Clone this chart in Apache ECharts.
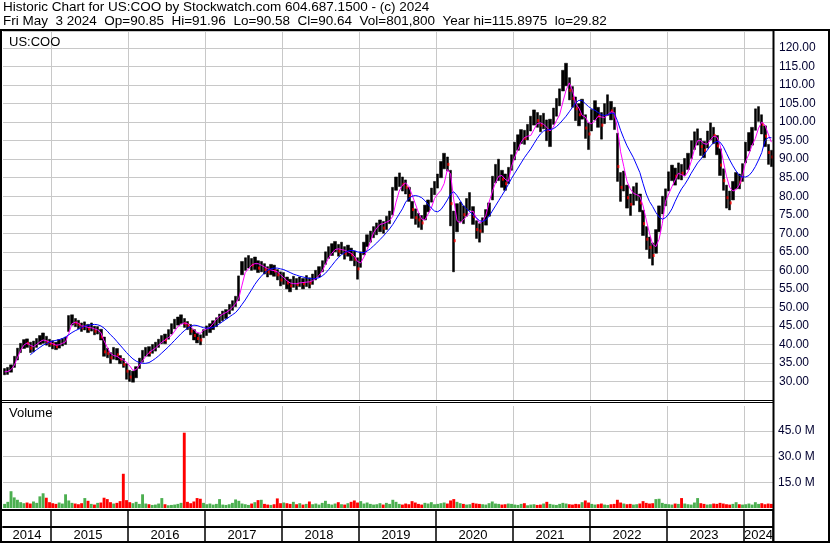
<!DOCTYPE html>
<html><head><meta charset="utf-8">
<script src="https://cdn.jsdelivr.net/npm/echarts@6/dist/echarts.min.js"></script>
<style>html,body{margin:0;padding:0;background:#fff}#c{width:830px;height:543px}</style>
</head><body><div id="c"></div>
<script>
// ---- DATA (semi-monthly periods, May 2014 .. May 2024) ----
const closes = [
  32.5,32.8,33.6,36.0,38.2,39.6,40.6,40.3,39.0,39.6,40.8,41.2,42.0,40.6,40.2,
  40.0,39.4,40.2,40.6,41.0,46.2,46.6,45.8,45.4,44.6,45.2,44.2,44.8,43.6,44.0,42.0,38.0,37.6,36.4,38.4,37.2,36.0,34.6,32.8,
  31.2,31.8,33.4,35.4,37.2,38.0,37.8,38.8,39.4,40.6,41.6,41.2,42.8,44.6,45.8,46.4,46.8,45.6,45.2,43.6,42.4,41.6,41.2,43.2,
  43.8,44.6,45.2,46.2,47.0,47.6,48.4,49.8,50.6,51.6,56.0,60.6,61.6,62.2,61.4,61.8,60.6,61.2,60.2,59.6,60.4,59.8,58.8,57.4,
  57.8,56.6,55.8,56.8,56.2,57.0,56.4,57.2,56.6,57.8,58.6,59.8,61.4,63.8,64.8,65.6,66.4,65.2,66.0,64.6,65.4,64.2,63.0,60.4,
  63.6,66.2,68.0,69.2,70.4,71.2,72.0,71.4,73.0,74.4,80.6,83.4,84.6,83.2,82.4,80.2,76.4,74.2,73.6,72.8,75.8,77.4,80.8,82.2,
  84.0,87.6,89.4,88.6,78.0,68.0,74.6,76.2,75.0,77.6,78.8,74.6,71.0,70.6,72.4,74.8,76.6,83.0,85.8,86.8,84.6,83.4,85.6,89.2,
  92.4,94.8,96.2,95.6,97.2,99.6,101.2,100.4,99.2,100.6,97.8,98.4,101.6,104.2,106.8,111.6,112.8,108.6,106.4,103.6,102.0,103.8,98.4,96.8,
  100.8,103.4,101.6,99.2,102.4,104.6,103.0,101.4,88.0,82.4,84.6,79.6,77.8,80.4,81.6,78.2,72.6,68.4,66.2,64.0,68.6,74.6,77.8,79.8,
  84.2,86.6,85.4,87.0,86.2,88.0,89.6,92.8,95.2,96.0,93.4,92.4,95.4,97.6,96.4,93.6,88.4,84.2,79.6,78.2,81.6,84.6,83.8,86.4,
  92.0,94.8,96.6,101.4,102.6,99.4,96.2,91.8,90.6
];
const highs = [
  33.5,33.8,34.5,36.8,39.0,40.3,41.3,41.5,40.6,40.9,41.6,42.4,43.1,42.2,41.4,
  41.0,40.6,41.3,41.6,42.0,47.8,48.0,47.0,46.5,45.8,46.1,45.4,45.8,44.9,44.8,44.1,42.0,39.0,37.8,39.2,38.9,37.0,36.2,34.8,
  33.0,32.8,34.0,36.3,38.4,39.2,39.4,40.0,40.6,41.4,42.4,42.8,44.0,45.6,46.8,47.4,48.0,47.0,46.2,45.4,44.0,43.0,42.6,44.0,
  45.0,45.6,46.4,47.2,48.2,49.0,49.4,50.8,51.8,53.0,58.5,62.4,63.4,64.0,63.2,63.6,62.6,62.4,61.8,61.0,61.6,61.4,60.2,59.6,
  59.4,58.2,57.6,58.4,57.8,58.2,57.8,58.6,58.0,59.0,60.0,61.0,62.6,65.0,66.4,67.2,67.8,67.0,67.6,66.4,66.8,66.0,65.2,63.4,
  65.0,67.6,69.6,70.6,71.8,72.8,73.6,73.2,74.6,76.0,82.4,85.2,86.3,85.2,84.4,82.4,78.6,76.6,75.4,74.8,77.6,79.0,82.2,84.0,
  86.0,89.4,91.6,90.6,87.0,76.0,78.0,78.4,77.4,79.4,81.0,77.2,73.4,72.6,74.2,76.4,78.2,85.4,88.6,90.0,87.0,86.0,87.8,91.2,
  94.6,96.6,98.0,97.8,99.4,101.6,103.3,102.6,101.8,102.4,100.6,100.8,103.8,106.4,109.0,114.0,115.9,112.0,109.6,106.8,105.0,106.2,102.0,99.8,
  103.4,105.8,104.0,102.6,105.0,107.4,105.6,104.0,97.0,86.4,86.8,83.0,80.6,82.6,83.6,80.6,76.2,71.8,69.0,67.4,71.0,77.4,80.0,82.0,
  86.6,88.4,87.6,89.0,88.6,90.2,91.6,95.0,97.4,98.2,95.6,94.8,97.6,99.8,98.6,96.4,92.8,87.4,83.0,81.4,84.0,86.4,86.0,88.8,
  94.6,97.2,98.6,103.6,104.2,102.0,99.0,94.0,92.4
];
const lows = [
  31.8,31.9,32.5,33.8,35.8,37.8,38.9,39.2,37.8,38.0,39.2,40.0,40.3,39.8,39.4,
  38.8,38.6,39.0,39.6,40.0,43.5,45.2,44.8,44.2,43.5,43.9,43.2,43.6,42.6,42.8,41.2,36.8,36.4,34.9,36.0,35.8,34.8,33.8,30.6,
  30.0,29.8,31.0,33.5,35.2,36.8,36.8,37.6,38.2,39.2,40.2,40.2,41.4,42.8,44.2,45.2,45.6,44.6,44.0,42.6,41.2,40.4,39.9,41.8,
  42.4,43.2,44.0,44.8,45.8,46.4,47.0,48.2,49.2,50.2,51.8,58.8,60.0,60.6,60.0,60.2,59.4,59.6,59.0,58.2,58.8,58.4,57.4,55.8,
  56.2,55.0,54.2,55.4,54.8,55.6,55.0,55.6,55.2,56.2,57.4,58.2,59.6,61.6,63.2,64.0,65.0,63.8,64.4,63.0,63.8,62.6,61.2,57.6,
  60.8,64.2,66.4,67.6,68.8,69.6,70.4,70.0,71.0,72.6,75.0,81.6,82.6,81.4,80.6,78.6,74.0,72.4,71.6,71.0,73.6,75.8,78.4,80.4,
  82.2,85.0,87.4,86.8,72.0,59.6,70.4,73.2,72.6,74.6,76.2,72.4,68.6,67.6,70.2,72.2,74.6,79.0,83.6,84.2,82.4,81.6,83.4,87.0,
  89.8,92.4,94.2,94.0,95.2,97.6,99.2,98.6,97.4,98.2,95.0,93.4,99.4,101.6,104.4,108.4,109.8,106.0,104.0,100.4,99.0,100.8,95.6,92.6,
  97.6,100.6,98.6,95.4,99.6,101.8,100.6,98.0,84.0,78.6,81.4,76.8,74.8,77.6,78.8,75.8,69.4,65.6,63.2,61.4,64.6,70.4,75.2,77.4,
  81.4,84.2,83.0,84.6,84.4,85.6,87.2,90.2,92.6,93.8,91.0,90.4,93.0,95.2,94.2,91.2,85.6,81.6,76.8,76.3,79.0,82.0,82.0,84.0,
  89.0,92.2,93.8,97.8,100.2,96.8,93.4,88.6,88.0
];
// short moving average (magenta)
const maShort = [
  32.6,32.7,33.2,34.3,36.4,38.4,39.8,40.4,39.8,39.4,40.0,40.7,41.2,41.0,40.6,
  40.2,39.8,39.9,40.3,40.7,43.0,45.6,46.0,45.7,45.0,44.9,44.6,44.5,44.2,43.9,43.2,41.0,39.2,37.6,37.0,36.8,36.2,35.8,35.2,
  34.2,33.0,33.2,34.4,35.6,36.8,37.8,38.4,39.0,39.8,40.6,41.2,41.8,42.4,43.6,44.8,45.4,45.8,45.6,44.8,44.0,43.2,43.0,43.8,
  44.2,44.6,45.6,46.8,47.6,48.2,48.6,49.2,50.0,51.0,52.5,56.0,59.4,60.4,61.4,61.8,61.8,61.4,60.9,60.4,60.1,59.9,59.6,58.8,
  58.0,57.2,56.6,56.4,56.4,56.6,56.7,56.8,56.9,57.2,57.8,58.6,59.8,61.6,63.4,64.6,65.6,65.8,65.6,65.4,65.0,64.6,63.8,62.4,
  62.0,63.6,65.6,67.6,70.2,71.4,72.4,72.6,73.0,73.4,74.6,78.4,81.4,83.0,83.6,82.6,80.4,78.0,75.6,73.8,73.6,75.2,76.8,79.4,
  80.6,81.6,83.4,87.2,86.0,79.0,73.4,72.8,73.6,74.6,75.6,76.0,74.2,72.8,73.2,74.8,78.4,81.2,83.6,85.4,85.6,84.6,84.0,88.0,
  90.6,92.6,94.6,95.8,96.2,96.4,98.0,99.6,99.8,99.4,98.6,97.6,98.6,100.4,102.0,105.4,108.6,110.6,108.6,105.0,103.8,101.8,101.4,99.8,
  99.6,100.4,101.6,101.4,101.2,102.0,102.8,102.6,98.4,92.0,88.0,84.0,82.0,80.8,80.4,80.0,77.4,73.6,70.0,67.0,66.4,68.4,72.6,78.6,
  80.6,82.6,84.4,86.2,85.8,85.4,86.6,89.4,92.6,95.0,95.0,94.2,94.0,95.2,96.2,96.0,93.8,89.6,85.4,82.4,81.4,81.8,83.0,85.4,
  89.4,91.4,93.8,95.6,98.4,100.0,99.2,96.8,94.6
];
// long moving average (blue)
const maLong = [
  null,null,null,null,null,null,null,null,37.2,37.9,38.6,39.2,39.8,40.2,40.6,
  40.9,41.1,41.3,41.6,42.0,42.6,43.2,43.7,44.1,44.5,44.9,45.2,45.3,45.4,45.3,45.0,44.4,43.6,42.6,41.8,40.8,39.8,38.8,37.8,
  36.9,36.1,35.5,35.1,34.9,34.9,35.1,35.6,36.2,36.9,37.7,38.5,39.3,40.2,41.1,42.0,42.9,43.7,44.4,44.9,45.2,45.1,44.8,44.5,
  44.4,44.4,44.6,45.0,45.6,46.2,46.8,47.4,48.0,48.6,49.6,50.8,52.0,53.4,54.8,56.2,57.4,58.4,59.3,60.0,60.4,60.6,60.6,60.4,
  60.2,59.8,59.4,59.0,58.7,58.4,58.2,58.0,57.8,57.7,57.8,58.0,58.5,59.2,60.2,61.3,62.4,63.4,64.2,64.8,65.2,65.4,65.3,65.0,
  64.8,64.8,65.2,65.8,66.6,67.4,68.3,69.2,70.2,71.2,72.4,73.8,75.2,76.6,78.4,79.4,80.0,80.2,80.0,79.6,78.8,77.8,76.8,76.0,
  75.8,76.4,77.6,79.0,80.6,81.2,80.2,78.8,77.4,76.6,75.8,75.0,74.2,73.4,73.2,73.6,74.6,76.0,77.4,78.8,80.2,81.6,83.2,84.8,
  86.2,87.6,89.0,90.4,91.6,92.8,94.2,95.6,96.8,97.6,97.9,98.0,98.2,98.8,99.6,100.6,101.6,102.8,104.0,105.2,105.9,105.8,105.0,104.2,
  103.6,103.2,102.6,102.0,101.8,102.0,102.4,102.4,100.4,97.8,95.6,93.6,92.0,90.4,88.4,86.4,83.4,80.6,78.6,77.2,75.6,74.4,73.8,74.2,
  75.2,76.6,78.6,80.4,82.0,83.2,84.6,86.2,87.6,89.0,90.0,91.2,92.4,93.6,94.4,94.8,94.6,93.4,91.6,89.8,88.2,86.8,85.6,85.2,
  85.2,85.6,86.6,88.0,89.8,91.8,95.0,95.8,95.8
];
// volume, millions of shares
const volumeM = [
  2.4,3.6,9.8,6.2,4.8,3.4,2.8,3.2,2.6,3.8,3.0,6.8,8.6,6.0,3.4,
  2.8,2.4,3.2,2.6,8.0,4.4,3.0,2.6,2.2,2.8,5.8,4.2,2.4,2.0,3.0,3.2,6.0,5.2,3.4,2.6,3.0,4.0,20.0,4.6,
  3.4,2.8,3.6,2.4,8.0,2.6,2.2,1.8,2.0,2.6,5.8,2.2,1.6,1.8,2.0,2.4,3.0,44.0,3.6,2.8,3.8,5.8,5.4,3.0,
  2.2,2.6,2.0,2.4,5.2,2.0,1.8,2.2,3.0,5.0,4.2,2.6,2.2,1.8,2.6,3.4,4.6,4.8,2.4,2.0,1.8,2.2,5.6,2.8,
  3.2,2.8,2.4,3.6,2.2,2.8,2.0,2.4,3.8,2.2,2.6,2.0,3.0,4.2,2.4,2.0,2.6,3.4,2.2,2.0,2.8,3.6,4.4,3.2,
  4.0,2.6,3.2,2.4,2.0,2.2,2.8,2.0,3.0,2.4,4.8,3.6,2.4,2.0,2.6,2.2,4.0,3.2,2.4,2.0,3.0,2.6,3.4,2.2,
  2.4,2.8,3.2,2.6,4.4,5.2,3.6,2.8,2.4,2.0,2.2,3.0,2.6,2.4,2.2,2.0,2.8,3.8,2.6,2.4,2.0,2.2,2.6,2.4,
  2.0,1.8,2.4,2.8,1.6,2.0,2.2,1.8,2.0,2.6,3.6,2.4,2.0,1.8,2.4,3.0,2.6,2.2,2.0,2.4,2.2,3.4,4.4,3.2,
  2.4,2.0,2.2,2.6,2.0,1.8,2.2,2.4,4.8,3.2,2.6,2.2,2.4,2.0,2.2,2.6,4.0,3.0,2.6,2.8,5.2,5.4,3.0,2.4,
  2.2,2.0,2.6,2.4,5.8,2.6,2.2,2.0,3.2,5.8,2.8,2.4,2.0,2.2,2.6,2.4,3.0,2.6,2.2,2.0,2.4,3.4,2.2,2.0,
  2.2,2.6,2.0,3.4,2.4,2.8,2.2,2.6,2.4
];
const headerLine1 = 'Historic Chart for US:COO by Stockwatch.com 604.687.1500 - (c) 2024';
const headerLine2 = 'Fri May  3 2024  Op=90.85  Hi=91.96  Lo=90.58  Cl=90.64  Vol=801,800  Year hi=115.8975  lo=29.82';
const symbolLabel = 'US:COO';
const volumeLabel = 'Volume';

// period labels: second half of May 2014 through first half of May 2024
const categories = [];
(function(){ let y=2014, m=5, h=1;
  while (categories.length < closes.length) {
    categories.push(y + '-' + String(m).padStart(2,'0') + (h ? '-16' : '-01'));
    if (h) { h=0; m++; if (m>12) { m=1; y++; } } else { h=1; }
  }})();

const yearOf = c => c.slice(0,4);
const yearStarts = new Set();
for (let i=1;i<categories.length;i++) if (yearOf(categories[i])!==yearOf(categories[i-1])) yearStarts.add(i);
const labelIdx = new Set();
(function(){ let s=0; for (let i=1;i<=categories.length;i++){ if (i===categories.length || yearStarts.has(i)) { labelIdx.add(Math.floor((s+i-1)/2)); s=i; } } })();
const isYearStart = (i) => yearStarts.has(i);

const candleData = closes.map((c,i) => {
  const up = i===0 || c >= closes[i-1];
  return up ? [lows[i], highs[i], lows[i], highs[i]] : [highs[i], lows[i], lows[i], highs[i]];
});
const downCloses = closes.map((c,i) => (i>0 && c < closes[i-1]) ? c : null);
const volData = volumeM.map((v,i) => ({
  value: v*1e6,
  itemStyle: { color: (i>0 && closes[i] < closes[i-1]) ? '#ff0000' : '#4caf50' }
}));

const FONT = "'Liberation Sans', Arial, Helvetica, sans-serif";
const GRIDC = '#c8c8c8';
const LABC = '#000030';

const chart = echarts.init(document.getElementById('c'), null, {renderer:'canvas'});
const catAxisBase = (gi) => ({
  type:'category', gridIndex:gi, data:categories, boundaryGap:true,
  axisLine:{show:false}, axisTick:{show:false}, axisLabel:{show:false},
  splitLine:{show:true, interval:isYearStart, lineStyle:{color:GRIDC, width:1}}
});
const rect = (x,y,w,h) => ({type:'rect', shape:{x:x,y:y,width:w,height:h}, style:{fill:'#000'}, silent:true, z:100});
const txt = (x,y,t,size) => ({type:'text', x:x, y:y, silent:true, z:100,
  style:{text:t, font: size+'px '+FONT, fill:'#000', align:'left', verticalAlign:'middle', textAlign:'left', textVerticalAlign:'middle'}});

chart.setOption({
  animation:false,
  backgroundColor:'#ffffff',
  grid:[
    {left:3, width:770, top:31, height:369, outerBoundsMode:'none', containLabel:false},
    {left:3, width:770, top:406, height:102, outerBoundsMode:'none', containLabel:false},
    {left:3, width:770, top:510, height:17, outerBoundsMode:'none', containLabel:false}
  ],
  xAxis:[
    catAxisBase(0),
    catAxisBase(1),
    {type:'category', gridIndex:2, data:categories, boundaryGap:true, position:'bottom',
     axisLine:{show:true, lineStyle:{color:'#000', width:2}},
     axisTick:{show:true, interval:isYearStart, length:15, inside:false, lineStyle:{color:'#000', width:1.5}},
     splitLine:{show:true, interval:isYearStart, lineStyle:{color:'#000', width:1.5}},
     axisLabel:{show:true, interval:(i)=>labelIdx.has(i), formatter:(v)=>v.slice(0,4), color:'#000', fontSize:13, fontFamily:FONT, margin:2}}
  ],
  yAxis:[
    {type:'value', gridIndex:0, position:'right', min:25, max:124.6, interval:5,
     axisLine:{show:false}, axisTick:{show:false},
     axisLabel:{margin:6, color:LABC, fontSize:12, fontFamily:FONT, formatter:(v)=>v.toFixed(2), showMinLabel:false, showMaxLabel:false},
     splitLine:{show:true, lineStyle:{color:GRIDC, width:1}}},
    {type:'value', gridIndex:1, position:'right', min:0, max:59.6e6, interval:15e6,
     axisLine:{show:false}, axisTick:{show:false},
     axisLabel:{margin:5, color:LABC, fontSize:12, fontFamily:FONT, formatter:(v)=>(v/1e6).toFixed(1)+' M', showMinLabel:false, showMaxLabel:false},
     splitLine:{show:true, showMinLine:false, showMaxLine:false, lineStyle:{color:GRIDC, width:1}}},
    {type:'value', gridIndex:2, show:false, min:0, max:1}
  ],
  series:[
    {type:'candlestick', xAxisIndex:0, yAxisIndex:0, barWidth:2.8, data:candleData, z:2,
     itemStyle:{color:'#000', color0:'#000', borderColor:'#000', borderColor0:'#000', borderWidth:0.5}},
    {type:'scatter', xAxisIndex:0, yAxisIndex:0, data:downCloses, symbol:'rect', symbolSize:[2,3], symbolOffset:[1,0], z:3,
     itemStyle:{color:'#ff0000'}},
    {type:'line', xAxisIndex:0, yAxisIndex:0, data:maShort, symbol:'none', z:4, lineStyle:{color:'#ff00ff', width:1}, itemStyle:{color:'#ff00ff'}},
    {type:'line', xAxisIndex:0, yAxisIndex:0, data:maLong, symbol:'none', z:5, lineStyle:{color:'#0000ff', width:1}, itemStyle:{color:'#0000ff'}},
    {type:'bar', xAxisIndex:1, yAxisIndex:1, data:volData, barCategoryGap:'10%', z:2}
  ],
  graphic:[
    rect(0,29,830,2),
    rect(0,29,2,514),
    rect(828,29,2,514),
    rect(0,541,830,2),
    rect(772.5,29,2,514),
    rect(0,400,773,1),
    rect(0,402,773,1),
    rect(0,509,773,2),
    txt(3,7,headerLine1,13.5),
    txt(3,21,headerLine2,13.5),
    txt(9,42,symbolLabel,13),
    txt(9,413,volumeLabel,13)
  ]
});
</script></body></html>
